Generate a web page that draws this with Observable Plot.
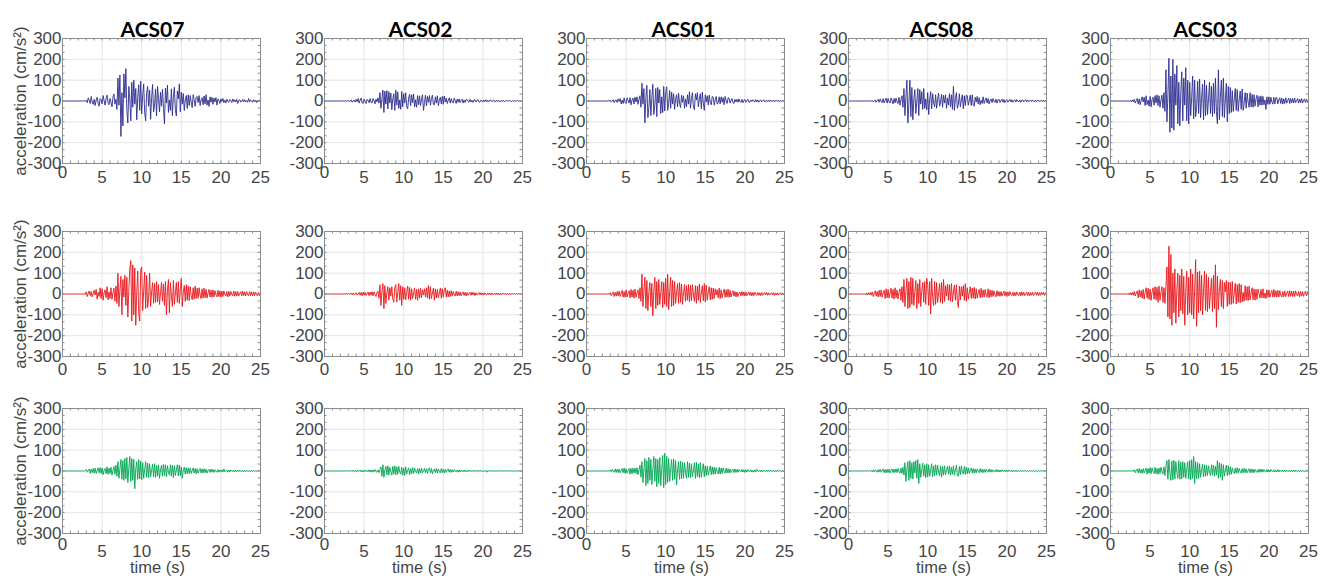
<!DOCTYPE html>
<html>
<head>
<meta charset="utf-8">
<script src="https://cdn.jsdelivr.net/npm/d3@7"></script>
<script src="https://cdn.jsdelivr.net/npm/@observablehq/plot@0.6"></script>
<style>
  body { margin: 0; background: #fff; }
  #chart { position: relative; width: 1328px; height: 576px; overflow: hidden; background: #fff; }
  #chart svg { position: absolute; }
</style>
</head>
<body>
<div id="chart"></div>
<script>
// ---- labels / ticks ----
const stations = ["ACS07", "ACS02", "ACS01", "ACS08", "ACS03"];
const xTicks = [0, 5, 10, 15, 20, 25];
const yTicks = [-300, -200, -100, 0, 100, 200, 300];
const yLabel = "acceleration (cm/s²)";
const xLabel = "time (s)";
const dt = 0.125; // sampling step of the series below (s)
const componentColors = ["#2e2d8f", "#e8161b", "#00a651"];

// ---- row 1 (blue) ----
const blueACS07 = [0,0,0,0,0,0,0,0, 0,0,0,0,0,0,0,0, 0,0,0,0,1,-1,2,-1,
 3,-8,15,4,-12,22,-5,-16, 8,-22,5,18,-10,-25,12,6, -14,26,3,-20,10,28,-8,-18,
 12,-6,-28,20,34,-15,8,-40, 110,-20,125,-170,40,-120,130,15, 155,-45,-105,70,10,-95,90,-30,
 100,-15,60,-90,20,78,-45,95, -62,30,82,-55,-95,40,70,-25, 52,-88,15,80,-52,-20,58,-72,
 70,10,-52,42,-25,56,-36,-110, 62,-10,76,-55,5,-45,58,-70, 20,66,-42,-72,48,10,82,-52,
 42,-15,36,-46,5,26,-36,30, -22,26,-5,-32,30,8,-26,18, 22,-8,26,-22,6,16,-18,24,
 -14,30,-20,5,-26,20,-6,18, -16,14,-4,16,-20,10,2,-12, 10,-3,12,-8,4,-10,9,-2,
 -6,8,2,-7,10,-4,6,-5, 8,-12,3,6,-5,-2,8,-4, 6,-4,2,-6,12,-3,5,1, -6,6,-2,5,-8,3,-5,4, 0];
const blueACS02 = [0,0,0,0,0,0,0,0, 0,0,0,0,0,0,0,0, 0,0,0,1,-1,2,-2,1,
 3,-4,1,5,-6,2,4,-5, 8,-3,12,-10,4,14,-8,-12, 9,-2,-12,8,3,-8,12,-6,
 -10,12,2,-14,9,-4,15,-10, 40,-35,10,52,-55,48,-15,50, -38,45,-10,38,-42,12,35,-45,
 52,-20,44,-36,5,-40,46,-28, 35,-10,40,-25,-38,15,32,-22, 30,-8,34,-28,6,-30,26,-18,
 25,-22,10,30,-45,-8,28,-24, 22,-6,26,-20,12,28,-16,-18, 20,-10,25,-22,4,18,-14,22,
 -16,24,-5,14,-12,4,15,-10, 12,-3,-10,14,2,-12,9,-6, 10,-8,3,9,-10,5,-7,6,
 7,-2,-6,8,-5,3,-7,5, 6,-5,1,7,-4,-6,4,2, -5,5,-2,6,-4,3,-3,4,
 4,-3,1,5,-4,-2,4,-3, 3,-1,-3,4,-2,2,-3,1, 3,-2,1,3,-2,-2,2,-1, 2,-2,1,3,-2,1,-2,1, 0];
const blueACS01 = [0,0,0,0,0,0,0,0, 0,0,0,0,0,0,0,0, 0,0,0,0,1,-1,2,-1,
 4,-5,1,6,-8,3,5,-7, 10,-2,12,-14,4,-12,15,-6, -12,15,3,-10,16,-18,5,14,
 -14,18,-4,20,-16,8,25,-30, 85,-15,60,-105,20,75,-80,-30, 55,-70,15,80,-65,-20,60,-75,
 65,-10,55,-60,20,-55,70,-48, 40,68,-45,-10,50,-35,42,-15, 35,-40,8,30,-28,38,-10,-32,
 28,-6,25,-35,10,-28,30,-15, 45,-35,12,40,-30,-42,35,5, 40,-28,10,35,-38,42,-10,-45,
 30,-5,25,-20,28,-8,-18,22, 18,-20,5,22,-15,-8,20,-14, 20,-6,16,-18,22,2,-12,15,
 14,-10,3,12,-8,-12,8,-4, 8,-6,10,-2,-7,8,-8,3, 7,-6,2,8,-5,-6,5,-2,
 6,-1,-5,7,-4,5,-6,2, 5,-4,1,6,-3,-4,4,-2, 4,-3,5,-1,-3,4,-4,2, 3,-2,4,-3,1,-2,3,-1, 0];
const blueACS08 = [0,0,0,0,0,0,0,0, 0,0,0,0,0,0,0,0, 0,0,0,1,-1,1,-2,1,
 3,-4,1,5,-6,2,8,-6, 10,-2,-8,12,-9,4,14,-10, 12,-4,-10,15,2,-14,12,-9,
 14,-3,-12,18,-20,6,25,-30, 60,-70,20,100,-105,-15,100,-75, 65,-90,10,55,-60,-5,60,-70,
 55,-15,45,-40,60,-35,10,-42, 40,-65,5,45,-38,35,-10,-28, 30,-35,8,38,-25,-5,32,-30,
 28,-10,30,-35,15,-20,35,-28, 30,-40,70,-45,10,40,-35,-15, 35,-28,5,30,-38,25,-22,28,
 25,-20,2,28,-22,30,-18,-25, 18,-5,22,-14,16,-18,3,-12, 20,-12,4,15,-10,12,-14,2,
 10,-8,12,-2,-7,9,-10,6, 8,-7,2,9,-6,7,-8,3, 7,-6,1,8,-5,6,-6,2,
 6,-5,7,-1,-4,5,-6,4, 5,-4,2,6,-4,5,-3,1, 4,-3,5,-1,-3,4,-4,3, 4,-3,1,3,-3,4,-2,1, 0];
const blueACS03 = [0,0,0,0,0,0,0,0, 0,0,0,0,0,0,0,0, 0,0,1,-2,3,-4,5,-3,
 8,-10,2,12,-15,10,-18,5, 20,-5,18,-22,25,-18,4,-25, 22,-28,8,18,-20,26,-10,30,
 -22,25,-30,5,28,-35,40,-50, 150,-100,30,205,-150,120,-130,200, -140,130,-20,170,-110,90,-120,40,
 140,-95,110,-20,160,-95,100,-110, 90,-70,20,120,-85,100,-75,-30, 95,-60,105,-80,15,80,-90,100,
 -70,75,-65,10,90,-60,70,-75, 85,-60,110,-50,-110,150,-90,20, 100,-75,110,-80,5,85,-100,70,
 -60,65,-55,50,-50,10,60,-45, 55,-50,5,48,-40,58,-45,-10, 40,-35,38,-5,-30,40,-28,32,
 -30,30,-25,10,28,-28,22,-20, 25,-20,22,-18,5,-40,20,-16, 20,-16,18,-5,-15,18,-14,16,
 16,-14,6,15,-12,14,-15,10, -12,15,-10,3,14,-12,12,-9, 12,-10,14,-8,2,12,-10,9, -8,12,-10,4,10,-8,9,-6, 0];

// ---- row 2 (red) ----
const redACS07 = [0,0,0,0,0,0,0,0, 0,0,0,0,0,0,0,0, 0,0,0,0,0,-1,1,-2,
 10,-12,3,15,-8,12,-14,2, 18,-5,22,-25,8,-12,30,-22, 25,-30,5,20,-18,35,-28,10,
 -22,30,-25,8,28,-35,38,-45, 100,-60,20,85,-100,70,-15,90, -55,80,-110,20,120,160,-130,140,
 -100,125,-150,10,110,-95,-130,115, 130,-80,15,105,-70,90,-65,-20, 100,-60,10,55,-45,50,-40,60,
 -38,45,-50,5,55,-35,48,-55, 60,-100,20,70,-90,55,-10,-60, 65,-50,5,55,-40,60,-45,20,
 75,-60,10,40,-35,45,-30,38, -32,35,-8,-28,30,-25,38,-22, 28,-20,30,-5,-22,25,-20,28,
 -18,22,-20,5,22,-15,18,-16, 20,-14,16,-3,-14,18,-12,15, -16,14,-12,15,-3,-10,12,-14,
 13,-10,12,-2,-9,14,-11,12, -10,12,-10,3,11,-9,14,-8, 10,-10,12,-3,-9,12,-8,10, -9,10,-8,9,-2,-10,8,-7, 0];
const redACS02 = [0,0,0,0,0,0,0,0, 0,0,0,0,0,0,0,0, 0,0,0,0,1,-1,1,-1,
 3,-2,1,4,-3,5,-4,2, 6,-5,2,8,-6,7,-8,9, -6,8,-7,2,10,-8,9,-6,
 11,-9,10,-2,-12,8,14,-20, 45,-55,10,50,-70,40,-45,5, 35,-30,30,-10,35,-25,-40,30,
 45,-38,5,50,-30,40,-55,35, -25,30,-28,8,38,-25,32,-30, 25,-22,5,28,-25,22,-30,25,
 -20,28,-18,20,-5,25,-15,30, -20,40,-25,35,-22,5,28,-30, 25,-20,22,-18,4,28,-20,25,
 -15,20,30,-15,18,-14,15,-12, 16,-10,12,-3,-10,14,-9,11, -8,10,-9,2,10,-7,8,-9,
 7,-6,2,8,-6,9,-5,7, -8,6,-5,1,7,-4,6,-5, 5,-4,6,-1,-4,5,-3,4,
 -4,5,-4,1,4,-3,5,-4, 3,-4,4,-3,1,3,-2,4, -3,3,-2,4,-3,1,3,-2, 3,-2,3,-2,1,2,-2,1, 0];
const redACS01 = [0,0,0,0,0,0,0,0, 0,0,0,0,0,0,0,0, 0,0,0,0,1,-1,2,-2,
 6,-8,2,10,-12,8,-10,12, -9,14,-12,3,18,-15,12,-16, 20,-14,5,16,-18,22,-15,18,
 -20,24,-16,5,20,-22,30,-35, 95,-60,15,80,-70,65,-80,10, 55,-60,50,-105,15,80,-70,60,
 -55,70,-50,5,60,-65,55,-50, 75,-60,95,-75,10,80,-60,65, -55,60,-45,10,50,-45,55,-40,
 48,-50,5,45,-35,40,-30,45, -38,42,-32,45,-5,-35,40,-45, 38,-30,48,-40,5,40,-32,50,
 -38,42,-30,8,35,-28,30,-25, 28,-22,25,-5,20,-18,28,-22, 20,-18,5,24,-16,20,-15,24,
 -16,18,-14,4,16,-10,12,-14, 10,-12,3,10,-9,12,-8,10, -10,9,-8,2,10,-7,8,-9,
 7,-8,9,-2,-6,8,-7,6, -8,7,-6,1,8,-5,7,-6, 6,-5,2,7,-5,6,-6,5, -5,6,-5,1,6,-4,5,-3, 0];
const redACS08 = [0,0,0,0,0,0,0,0, 0,0,0,0,0,0,0,0, 2,-3,4,-5,6,-4,8,-6,
 10,-12,2,15,-10,12,-14,18, -12,20,-15,5,18,-22,25,-18, 22,-20,5,28,-20,22,-25,30,
 -18,20,-24,8,25,-30,35,-40, 70,-60,15,75,-70,60,-65,80, -50,75,-55,10,65,-70,50,-45,
 70,-60,15,55,-40,60,-50,75, 45,-55,60,-95,75,-15,-55,60, -50,55,-40,5,50,-40,55,-45,
 70,-35,40,-10,48,-30,45,-35, 50,-38,10,42,-30,45,-35,-65, 38,-28,35,-10,40,-30,50,-35,
 30,-25,8,35,-22,28,-20,32, -24,25,-20,5,22,-18,28,-16, 20,-15,22,-4,-16,25,-18,20,
 -14,18,-12,15,-3,-14,16,-10, 12,-11,12,-10,2,14,-9,11, -12,10,-9,12,-2,-8,9,-10,
 8,-8,10,-3,-8,9,-9,11, -7,8,-8,2,10,-8,8,-9, 7,-6,8,-7,3,10,-6,8, -8,7,-6,9,-2,8,-7,6, 0];
const redACS03 = [0,0,0,0,0,0,0,0, 0,0,0,0,0,0,0,0, 1,-2,3,-4,6,-5,8,-6,
 12,-10,5,15,-18,20,-14,16, -20,22,-25,8,30,-20,28,-26, 24,-30,10,30,-25,35,-28,32,
 -40,38,-30,10,35,-40,30,-45, 40,130,-110,230,-120,190,-150,100, -90,120,-140,20,100,-110,90,-80,
 120,-95,85,-150,10,110,-100,80, -90,120,-100,95,-120,15,165,-155, 105,-90,110,-80,90,-100,20,110,
 -80,95,-85,80,-70,10,75,-85, 90,-70,140,-160,85,-75,20,70, -60,65,-70,55,10,65,-60,58,
 -50,55,-50,60,-45,5,52,-48, 45,-40,50,-42,45,-38,8,-35, 40,-30,35,-32,38,-28,5,30,
 -28,25,-30,22,-26,24,4,-20, 22,-18,25,-20,5,-22,20,-16, 20,-16,5,18,-15,22,-14,16,
 -15,18,-14,16,-4,-15,12,-13, 15,-12,3,14,-13,16,-11,13, -12,14,-12,15,-3,-10,13,-14, 12,-10,12,-11,3,14,-9,11, 0];

// ---- row 3 (green) ----
const greenACS07 = [0,0,0,0,0,0,0,0, 0,0,0,0,0,0,0,0, 0,0,0,0,0,1,-1,2,
 8,-6,2,10,-12,9,-8,12, -10,14,-12,3,15,-9,16,-12, 15,-18,4,12,-14,20,-16,14,
 -12,18,-20,5,22,-16,28,-25, 45,-35,10,55,-40,50,-45,60, -38,65,-55,15,70,-50,60,-45,
 55,-85,10,45,-40,55,-38,48, -42,40,-35,8,45,-30,38,-32, 35,-28,5,32,-28,35,-30,28,
 -25,30,-35,5,28,-25,32,-22, 30,-28,25,-5,-20,30,-25,28, -32,25,-22,5,30,-24,28,-22,
 20,-35,5,18,-15,16,-14,15, -12,14,-12,3,15,-10,12,-13, 11,-10,2,12,-10,10,-9,11,
 -8,9,-10,2,8,-7,9,-6, 8,-7,6,-1,-6,7,-6,5, -4,6,-5,10,-4,1,5,-6,
 4,-5,5,-1,-3,5,-4,4, -3,4,-3,5,-1,-3,4,-4, 3,-3,4,-1,-3,3,-3,4, -2,3,-3,2,-1,3,-2,2, 0];
const greenACS02 = [0,0,0,0,0,0,0,0, 0,0,0,0,0,0,0,0, 0,0,0,0,0,1,-1,1,
 2,-3,1,3,-2,4,-3,2, -3,4,-3,1,5,-4,3,-5, 4,-3,5,-1,-4,6,-5,4,
 -6,5,-4,7,-2,-6,5,-8, 8,20,-25,30,-30,5,22,-18, 25,-20,18,-4,-20,22,-15,25,
 -18,20,-16,22,-5,-15,18,-20, 15,-22,20,-14,3,15,-18,12, -14,16,-12,14,-2,-10,12,-15,
 12,-10,14,-9,2,12,-8,11, -12,10,15,-10,12,-14,3,10, -8,12,-10,10,-2,-9,12,-8,
 9,-10,8,-7,2,10,-6,8, -7,6,-5,7,-1,-4,5,-6, 4,-5,5,-1,-4,5,-4,3,
 -3,4,-3,4,-1,-3,3,-3, 3,-2,3,-1,-2,4,-2,3, -3,2,-2,3,-6,1,2,-2,
 2,-2,3,-1,-2,2,-1,2, -1,2,-1,2,0,-1,2,-1, 1,-1,2,-1,0,1,-1,1, -1,1,-1,1,0,1,-1,0, 0];
const greenACS01 = [0,0,0,0,0,0,0,0, 0,0,0,0,0,0,0,0, 0,0,0,0,1,-1,1,-1,
 5,-4,8,-2,-6,10,-7,9, -8,10,-9,2,12,-8,14,-12, 11,-10,3,12,-15,13,-14,15,
 -10,14,-12,16,-18,5,28,-30, 45,-55,10,60,-70,50,-60,65, -45,55,-65,10,70,-50,60,-75,
 55,-60,65,-70,10,75,-80,85, -65,70,-55,60,-50,10,55,-45, 58,-40,50,-65,5,45,-40,48,
 -38,42,-35,40,-5,-35,45,-30, 38,-32,35,-28,5,40,-35,42, -28,35,-32,40,-30,5,35,-28,
 25,-22,22,-20,3,25,-18,20, -16,18,-15,16,-3,-14,18,-15, 14,-12,15,-3,-10,14,-9,11,
 -10,10,-8,2,9,-8,10,-7, 8,-6,7,-1,-5,8,-5,6, -7,6,-5,7,-1,-4,6,-5,
 4,-6,5,-4,8,-1,-3,4, -4,5,-3,4,-1,-3,4,-3, 4,-3,4,-1,-3,3,-4,3, -3,4,-2,3,-1,-3,3,-2, 0];
const greenACS08 = [0,0,0,0,0,0,0,0, 0,0,0,0,0,0,0,0, 0,1,-1,2,-2,3,-2,3,
 -4,5,-4,6,-1,-6,7,-5, 8,-6,2,10,-8,7,-9,8, -7,9,-10,3,10,-8,9,-7,
 10,-8,12,-3,-10,14,-12,18, -20,40,-50,10,45,-45,50,-35, 40,-38,45,-10,50,-35,55,-60,
 35,-30,8,38,-25,30,-32,35, -28,30,-25,5,35,-28,25,-22, 30,-20,28,-5,-22,25,-30,22,
 -20,25,-18,4,22,-15,25,-20, 18,-16,25,-20,5,28,-22,-25, 22,-18,25,-5,-15,22,-16,18,
 -14,15,-12,3,14,-10,12,-11, 10,-9,10,-2,-8,12,-7,9, -8,8,-7,9,-1,-6,10,-5,
 7,-6,6,-1,-5,7,-4,6, -5,5,-4,6,-1,-3,5,-4, 4,-3,5,-1,-3,4,-3,3,
 -3,3,-3,4,-1,-2,3,-3, 3,-2,3,-1,-2,2,-2,3, -2,2,-2,3,-1,-2,2,-2, 2,-1,2,-1,0,2,-1,1, 0];
const greenACS03 = [0,0,0,0,0,0,0,0, 0,0,0,0,0,0,0,0, 0,0,1,-1,2,-2,3,-2,
 6,-8,2,10,-9,12,-10,8, -12,12,-10,3,14,-15,12,-11, 16,-13,15,-2,-12,18,-14,12,
 -16,14,-12,18,-4,-15,20,-22, 25,50,-40,55,-10,-45,48,-42, 52,-38,45,-5,-35,50,-40,42,
 -38,45,-30,40,-35,10,45,-38, 50,-42,55,-35,70,-60,45,-38, 40,-35,35,-30,5,32,-28,30,
 -25,28,-22,25,-5,-22,30,-20, 28,-25,22,-20,50,-35,40,-30, 35,-45,30,-25,5,28,-22,25,
 -18,20,-16,15,-3,-12,14,-11, 16,-10,12,-2,-10,12,-9,13, -8,10,-9,2,11,-9,10,-8,
 9,-8,8,-1,-7,8,-6,9, -6,9,-5,7,-1,-6,8,-5, 6,-5,7,-1,-4,6,-5,4,
 -4,6,-5,5,-1,-4,5,-3, 5,-4,4,-1,-3,5,-3,4, -3,5,-4,4,-1,-3,4,-3, 4,-3,3,-1,-2,3,-2,3, 0];

const rowSeries = [
  [blueACS07, blueACS02, blueACS01, blueACS08, blueACS03],
  [redACS07, redACS02, redACS01, redACS08, redACS03],
  [greenACS07, greenACS02, greenACS01, greenACS08, greenACS03]
];

// ---- layout ----
const colLeft = [62, 324, 586, 848, 1110];
const rowTop = [38, 231, 408];
const W = 198, H = 125, mL = 62, mR = 8, mT = 38, mB = 43;
const tickPadX = [7, 6, 11];
const tickPadZero = [2, 6, 4];
const titleDx = [-9, -3, -2, -6, -4];
const minorX = d3.range(0, 26, 1);
const minorY = d3.range(0, 19).map(i => -300 + i * 100 / 3);
const gridXv = [5, 10, 15, 20];
const gridYv = [-200, -100, 0, 100, 200];

const chart = document.getElementById("chart");
const tickFont = "'Liberation Sans', Arial, Helvetica, sans-serif";

rowSeries.forEach((series, r) => {
  series.forEach((values, c) => {
    const data = values.map((a, i) => ({t: i * dt, a}));
    const marks = [
      Plot.gridX(gridXv, {stroke: "#e4e4e4", strokeOpacity: 1}),
      Plot.gridY(gridYv, {stroke: "#e4e4e4", strokeOpacity: 1}),
      Plot.line(data, {x: "t", y: "a", stroke: componentColors[r], strokeWidth: 0.9}),
      Plot.ruleX(minorX, {stroke: "#8c8c8c", insetBottom: H - 2.5}),
      Plot.ruleX(minorX, {stroke: "#8c8c8c", insetTop: H - 2.5}),
      Plot.ruleY(minorY, {stroke: "#8c8c8c", insetRight: W - 2.5}),
      Plot.ruleY(minorY, {stroke: "#8c8c8c", insetLeft: W - 2.5}),
      Plot.frame({stroke: "#8c8c8c"}),
      Plot.axisY(yTicks, {anchor: "left", tickSize: 0, tickPadding: 1, tickFormat: d => String(d), label: null}),
      Plot.axisX(xTicks.filter(d => d !== 0), {anchor: "bottom", tickSize: 0, tickPadding: tickPadX[r], label: null}),
      Plot.axisX(xTicks.filter(d => d === 0), {anchor: "bottom", tickSize: 0, tickPadding: tickPadZero[r], label: null})
    ];
    if (r === 0) {
      marks.push(Plot.text([stations[c]], {
        frameAnchor: "top", dy: -16, dx: titleDx[c], fontSize: 21, fontWeight: "bold",
        fontFamily: "Lato, 'Open Sans', sans-serif", fill: "#000"
      }));
    }
    if (c === 0) {
      marks.push(Plot.text([yLabel], {
        frameAnchor: "left", dx: -42, rotate: -90, textAnchor: "middle", lineAnchor: "middle",
        fontSize: 17, fill: "#454545"
      }));
    }
    if (r === 2) {
      marks.push(Plot.text([xLabel], {
        frameAnchor: "bottom", dy: 34, dx: -4, lineAnchor: "middle", fontSize: 16.5, fill: "#454545"
      }));
    }
    const svg = Plot.plot({
      width: W + mL + mR,
      height: H + mT + mB,
      marginLeft: mL, marginRight: mR, marginTop: mT, marginBottom: mB,
      x: {domain: [0, 25]},
      y: {domain: [-300, 300]},
      style: {fontFamily: tickFont, fontSize: "17px", color: "#454545", background: "transparent", overflow: "visible"},
      marks
    });
    svg.style.left = (colLeft[c] - mL) + "px";
    svg.style.top = (rowTop[r] - mT) + "px";
    svg.style.maxWidth = "none";
    chart.appendChild(svg);
  });
});
</script>
</body>
</html>
